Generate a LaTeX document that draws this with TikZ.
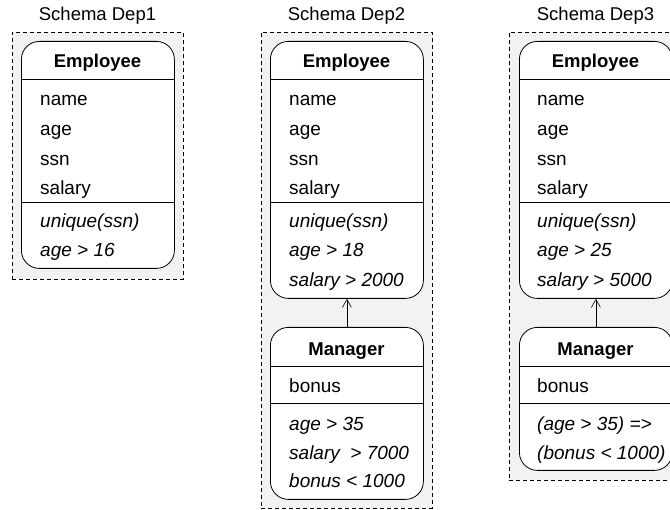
\documentclass[tikz,border=0pt]{standalone}
\usepackage{fontspec}
\setmainfont{Liberation Sans}
\usetikzlibrary{arrows.meta,positioning}

\begin{document}
\begin{tikzpicture}[x=1pt,y=-1pt,
    schema/.style={draw,dash pattern=on 4pt off 3pt,fill=black!5,line width=0.6pt,inner sep=0pt,anchor=north west},
    cls/.style={draw,fill=white,rounded corners=18pt,line width=0.8pt,inner sep=0pt,anchor=north west,minimum width=153pt},
    ttl/.style={font=\fontsize{18.5}{20}\selectfont,inner sep=0pt,anchor=base},
    hdr/.style={font=\fontsize{18.5}{20}\selectfont\bfseries,inner sep=0pt,anchor=base},
    lbl/.style={font=\fontsize{19}{20}\selectfont,inner sep=0pt,anchor=base west},
    cst/.style={font=\fontsize{19}{20}\selectfont\itshape,inner sep=0pt,anchor=base west},
    isa/.style={-{Straight Barb[length=8pt,width=9pt]},line width=0.6pt}]

    \useasboundingbox (0,0) rectangle (670,510);

    % schema frames
    \node [schema,minimum width=171pt,minimum height=247pt] (dep1) at (12,32) {};
    \node [schema,minimum width=171pt,minimum height=476pt] (dep2) at (261,32) {};
    \node [schema,minimum width=171pt,minimum height=448pt] (dep3) at (509,32) {};
    \node [ttl] (t1) at (97.5,21) {Schema Dep1};
    \node [ttl] (t2) at (346.5,21) {Schema Dep2};
    \node [ttl] (t3) at (595.5,21) {Schema Dep3};

    % Dep1
    \node [cls,minimum height=227pt] (emp1) at (21,41) {};
    \draw [line width=0.8pt] (emp1.west |- 0,79) -- (emp1.east |- 0,79);
    \draw [line width=0.8pt] (emp1.west |- 0,202) -- (emp1.east |- 0,202);
    \node [hdr] (emp1h) at (97.5,68) {Employee};
    \node [lbl] (emp1a) at (40,106) {name};
    \node [lbl] (emp1b) at (40,136) {age};
    \node [lbl] (emp1c) at (40,166) {ssn};
    \node [lbl] (emp1d) at (40,195) {salary};
    \node [cst] (emp1x) at (40,227.5) {unique(ssn)};
    \node [cst] (emp1y) at (40,257) {age > 16};

    % Dep2
    \node [cls,minimum height=257pt] (emp2) at (270,41) {};
    \draw [line width=0.8pt] (emp2.west |- 0,79) -- (emp2.east |- 0,79);
    \draw [line width=0.8pt] (emp2.west |- 0,202) -- (emp2.east |- 0,202);
    \node [hdr] (emp2h) at (346.5,68) {Employee};
    \node [lbl] (emp2a) at (289,106) {name};
    \node [lbl] (emp2b) at (289,136) {age};
    \node [lbl] (emp2c) at (289,166) {ssn};
    \node [lbl] (emp2d) at (289,195) {salary};
    \node [cst] (emp2x) at (289,227.5) {unique(ssn)};
    \node [cst] (emp2y) at (289,257) {age > 18};
    \node [cst] (emp2z) at (289,287) {salary > 2000};

    \node [cls,minimum height=172pt] (mgr2) at (270,327) {};
    \draw [line width=0.8pt] (mgr2.west |- 0,366) -- (mgr2.east |- 0,366);
    \draw [line width=0.8pt] (mgr2.west |- 0,403) -- (mgr2.east |- 0,403);
    \node [hdr] (mgr2h) at (346.5,356) {Manager};
    \node [lbl] (mgr2a) at (289,393) {bonus};
    \node [cst] (mgr2x) at (289,431) {age > 35};
    \node [cst] (mgr2y) at (289,460) {salary~ > 7000};
    \node [cst] (mgr2z) at (289,488) {bonus < 1000};
    \draw [isa] (mgr2) -- (emp2);

    % Dep3
    \node [cls,minimum height=257pt] (emp3) at (519,41) {};
    \draw [line width=0.8pt] (emp3.west |- 0,79) -- (emp3.east |- 0,79);
    \draw [line width=0.8pt] (emp3.west |- 0,202) -- (emp3.east |- 0,202);
    \node [hdr] (emp3h) at (595.5,68) {Employee};
    \node [lbl] (emp3a) at (537,106) {name};
    \node [lbl] (emp3b) at (537,136) {age};
    \node [lbl] (emp3c) at (537,166) {ssn};
    \node [lbl] (emp3d) at (537,195) {salary};
    \node [cst] (emp3x) at (537,227.5) {unique(ssn)};
    \node [cst] (emp3y) at (537,257) {age > 25};
    \node [cst] (emp3z) at (537,287) {salary > 5000};

    \node [cls,minimum height=143pt] (mgr3) at (519,327) {};
    \draw [line width=0.8pt] (mgr3.west |- 0,366) -- (mgr3.east |- 0,366);
    \draw [line width=0.8pt] (mgr3.west |- 0,403) -- (mgr3.east |- 0,403);
    \node [hdr] (mgr3h) at (595.5,356) {Manager};
    \node [lbl] (mgr3a) at (537,393) {bonus};
    \node [cst] (mgr3x) at (537,431) {(age > 35) =>};
    \node [cst] (mgr3y) at (537,460) {(bonus < 1000)};
    \draw [isa] (mgr3) -- (emp3);
\end{tikzpicture}
\end{document}
